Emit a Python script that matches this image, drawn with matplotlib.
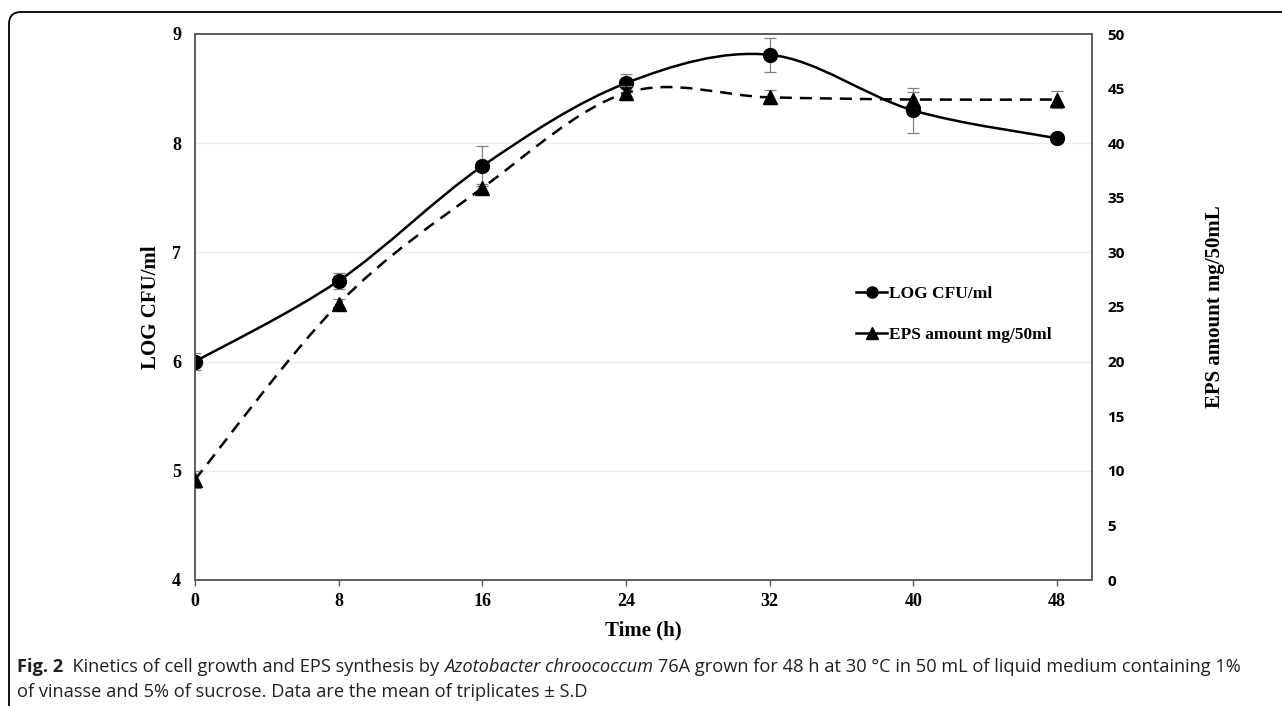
import matplotlib
matplotlib.use("Agg")
import matplotlib.pyplot as plt
from matplotlib.path import Path
from matplotlib.patches import PathPatch
from matplotlib.lines import Line2D
from matplotlib.text import Annotation

# ---------------- data ----------------
time_h = [0, 8, 16, 24, 32, 40, 48]
log_cfu = [6.00, 6.74, 7.79, 8.55, 8.81, 8.30, 8.045]
log_cfu_sd = [0.08, 0.075, 0.18, 0.08, 0.155, 0.21, 0.03]
eps_mg = [9.2, 25.3, 35.9, 44.6, 44.2, 44.0, 44.0]
eps_sd = [0.75, 0.4, 0.4, 0.6, 0.65, 0.7, 0.75]
x_ticks = [0, 8, 16, 24, 32, 40, 48]
left_ticks = [4, 5, 6, 7, 8, 9]
right_ticks = [0, 5, 10, 15, 20, 25, 30, 35, 40, 45, 50]
label_log = "LOG CFU/ml"
label_eps = "EPS amount mg/50ml"

W, H = 1282, 706
fig = plt.figure(figsize=(W / 100, H / 100), dpi=100)
ax = fig.add_axes([195 / W, 1 - 580 / H, (1092 - 195) / W, (580 - 34) / H])
ax2 = ax.twinx()

SERIF = 'Liberation Serif'
SPINE = '#595959'


def smooth_path(x, y):
    verts = [(x[0], y[0])]
    codes = [Path.MOVETO]
    n = len(x)
    for i in range(n - 1):
        x0, y0 = x[max(i - 1, 0)], y[max(i - 1, 0)]
        x1, y1 = x[i], y[i]
        x2, y2 = x[i + 1], y[i + 1]
        x3, y3 = x[min(i + 2, n - 1)], y[min(i + 2, n - 1)]
        verts += [(x1 + (x2 - x0) / 6, y1 + (y2 - y0) / 6),
                  (x2 - (x3 - x1) / 6, y2 - (y3 - y1) / 6),
                  (x2, y2)]
        codes += [Path.CURVE4] * 3
    return Path(verts, codes)


# left axis: LOG CFU
ax.set_xlim(0, 49.95)
ax.set_ylim(4, 9)
ax.set_yticks(left_ticks)
ax.set_xticks(x_ticks)
ax.grid(axis='y', color='#ececec', lw=0.8)
ax.set_axisbelow(True)
ax.errorbar(time_h, log_cfu, yerr=log_cfu_sd, fmt='none', ecolor='#808080',
            elinewidth=0.9, capsize=4, capthick=0.9, zorder=2)
ax.add_patch(PathPatch(smooth_path(time_h, log_cfu), fill=False,
                       edgecolor='black', lw=1.8, zorder=3))
ax.plot(time_h, log_cfu, 'o', color='black', ms=10, zorder=4)

# right axis: EPS
ax2.set_ylim(0, 50)
ax2.set_yticks(right_ticks)
ax2.errorbar(time_h, eps_mg, yerr=eps_sd, fmt='none', ecolor='#808080',
             elinewidth=0.9, capsize=4, capthick=0.9, zorder=2)
ax2.add_patch(PathPatch(smooth_path(time_h, eps_mg), fill=False,
                        edgecolor='black', lw=1.8, linestyle=(0, (4.8, 3.2)), zorder=3))
ax2.plot(time_h, eps_mg, '^', color='black', ms=10, zorder=4)

for a in (ax, ax2):
    for s in a.spines.values():
        s.set_color(SPINE)
        s.set_linewidth(1.1)

ax.tick_params(axis='y', length=0, pad=10)
ax.tick_params(axis='x', length=4, width=1, color=SPINE, pad=5)
ax2.tick_params(axis='y', length=0, pad=11)
for lab in ax.get_xticklabels() + ax.get_yticklabels():
    lab.set_fontfamily(SERIF)
    lab.set_fontweight('bold')
    lab.set_fontsize(13)
for lab in ax2.get_yticklabels():
    lab.set_fontfamily('Open Sans')
    lab.set_fontweight('bold')
    lab.set_fontsize(11)

ax.set_xlabel('Time (h)', fontfamily=SERIF, fontweight='bold', fontsize=15, labelpad=8)
ax.set_ylabel(label_log, fontfamily=SERIF, fontweight='bold', fontsize=15, labelpad=8)
ax2.set_ylabel('EPS amount mg/50mL', fontfamily=SERIF, fontweight='bold', fontsize=15,
               labelpad=58)

handles = [Line2D([], [], color='black', lw=1.8, marker='o', ms=8),
           Line2D([], [], color='black', lw=1.8, marker='^', ms=8)]
ax2.legend(handles, [label_log, label_eps], loc='upper left',
           bbox_to_anchor=(856 / W, 1 - 286 / H), bbox_transform=fig.transFigure,
           frameon=False, borderpad=0, borderaxespad=0, handlelength=1.8,
           handletextpad=0.1, labelspacing=1.45,
           prop={'family': SERIF, 'weight': 'bold', 'size': 12.5})

# caption
cap_color = '#231f20'
CAP = 'Open Sans'
CS = 13.15
line1 = [("Fig. 2", 'bold', 'normal'),
         ("  Kinetics of cell growth and EPS synthesis by ", 'normal', 'normal'),
         ("Azotobacter chroococcum", 'normal', 'italic'),
         (" 76A grown for 48 h at 30 °C in 50 mL of liquid medium containing 1%",
          'normal', 'normal')]
prev = fig.text(17 / W, 1 - 676 / H, line1[0][0], fontfamily=CAP, fontsize=CS,
                fontweight=line1[0][1], fontstyle=line1[0][2], color=cap_color,
                va='bottom', ha='left')
for txt, wt, st in line1[1:]:
    a = Annotation(txt, xy=(1, 0), xycoords=prev, ha='left', va='bottom',
                   fontfamily=CAP, fontsize=CS, fontweight=wt, fontstyle=st,
                   color=cap_color)
    fig.add_artist(a)
    prev = a
fig.text(17 / W, 1 - 701 / H,
         "of vinasse and 5% of sucrose. Data are the mean of triplicates ± S.D",
         fontfamily=CAP, fontsize=CS, color=cap_color, va='bottom', ha='left')

# panel border with rounded top-left corner
x0, yt = 9 / W, 1 - 12 / H
rx, ry = 12 / W, 12 / H
border = Path([(x0, -0.02), (x0, yt - ry), (x0, yt), (x0 + rx, yt), (1.02, yt)],
              [Path.MOVETO, Path.LINETO, Path.CURVE3, Path.CURVE3, Path.LINETO])
fig.add_artist(PathPatch(border, transform=fig.transFigure, fill=False,
                         edgecolor='black', lw=1.3, clip_on=False))

fig.savefig('out.png', dpi=100)
